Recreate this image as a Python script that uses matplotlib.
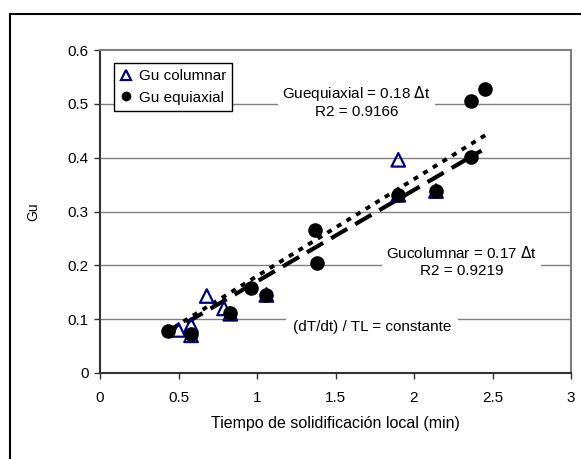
import matplotlib
matplotlib.use("Agg")
import matplotlib.pyplot as plt
from matplotlib.lines import Line2D
from matplotlib.patches import Rectangle
import numpy as np

plt.rcParams['font.family'] = ['Liberation Sans', 'DejaVu Sans']

# Data
eq_x = [0.43, 0.58, 0.83, 0.96, 1.06, 1.37, 1.38, 1.90, 2.14, 2.36, 2.36, 2.45]
eq_y = [0.078, 0.072, 0.112, 0.157, 0.145, 0.266, 0.205, 0.331, 0.338, 0.402, 0.506, 0.527]
col_x = [0.50, 0.58, 0.58, 0.68, 0.79, 0.83, 1.06, 1.90, 1.90, 2.14]
col_y = [0.080, 0.089, 0.070, 0.143, 0.120, 0.110, 0.145, 0.396, 0.331, 0.338]

eq_slope = 0.18
col_slope = 0.17
eq_range = [0.47, 2.47]
col_range = [0.55, 2.43]

xticks = [0, 0.5, 1, 1.5, 2, 2.5, 3]
yticks = [0, 0.1, 0.2, 0.3, 0.4, 0.5, 0.6]

fig = plt.figure(figsize=(5.81, 4.59), dpi=100)
ax = fig.add_axes([100/581, 1-373/459, 471/581, 323/459])

# outer frame
fig.patches.append(Rectangle((10/581, -0.05), 1.2, 1 - 14/459 + 0.05, transform=fig.transFigure,
                             fill=False, edgecolor='black', linewidth=1.5))

ax.set_xlim(0, 3)
ax.set_ylim(0, 0.6)
ax.set_xticks(xticks)
ax.set_xticklabels(['0', '0.5', '1', '1.5', '2', '2.5', '3'])
ax.set_yticks(yticks)
ax.set_yticklabels(['0', '0.1', '0.2', '0.3', '0.4', '0.5', '0.6'])
ax.tick_params(axis='both', labelsize=11, direction='out', length=4, width=1, color='#333333')
ax.tick_params(axis='x', pad=9)
ax.tick_params(axis='y', pad=4)

for y in yticks[1:-1]:
    ax.axhline(y, color='#808080', lw=1, zorder=0)

for s in ['top', 'right']:
    ax.spines[s].set_color('#808080')
    ax.spines[s].set_linewidth(1.5)
for s in ['left', 'bottom']:
    ax.spines[s].set_color('#333333')
    ax.spines[s].set_linewidth(1.5)

# trend lines
xe = np.array(eq_range)
ax.plot(xe, eq_slope * xe, color='black', lw=2.8, linestyle=(0, (1.3, 1.6)), zorder=3)
xc = np.array(col_range)
ax.plot(xc, col_slope * xc, color='black', lw=3.0, linestyle=(0, (4.5, 2.2)), zorder=3)

# data
ax.scatter(col_x, col_y, marker='^', s=95, facecolors='none', edgecolors='#000080', linewidths=1.6, zorder=4)
ax.scatter(eq_x, eq_y, marker='o', s=90, color='black', zorder=5)

# annotations
bb = dict(facecolor='white', edgecolor='none', pad=3)
ax.text(1.635, 0.505, 'Guequiaxial = 0.18 $\\Delta$t\nR2 = 0.9166', ha='center', va='center',
        fontsize=11, linespacing=1.2, bbox=bb, zorder=2)
ax.text(2.305, 0.207, 'Gucolumnar = 0.17 $\\Delta$t\nR2 = 0.9219', ha='center', va='center',
        fontsize=11, linespacing=1.2, bbox=bb, zorder=2)
ax.text(1.23, 0.085, '(dT/dt) / TL = constante', ha='left', va='center',
        fontsize=11, bbox=dict(facecolor='white', edgecolor='none', pad=5), zorder=2)

handles = [Line2D([], [], marker='^', linestyle='none', markerfacecolor='none', markeredgecolor='#000080',
                  markeredgewidth=1.6, markersize=7),
           Line2D([], [], marker='o', linestyle='none', color='black', markersize=6)]
leg = ax.legend(handles, ['Gu columnar', 'Gu equiaxial'], loc='upper left', bbox_to_anchor=(0.03, 0.96),
                borderaxespad=0, fancybox=False, edgecolor='black', framealpha=1, fontsize=11,
                handlelength=0.8, handletextpad=0.4, borderpad=0.4, labelspacing=0.5)
leg.get_frame().set_linewidth(1)
leg.set_zorder(6)

ax.set_xlabel('Tiempo de solidificación local (min)', fontsize=11.5, labelpad=8)
ax.set_ylabel('Gu', fontsize=10, labelpad=20)

fig.savefig('out.png', dpi=100)
